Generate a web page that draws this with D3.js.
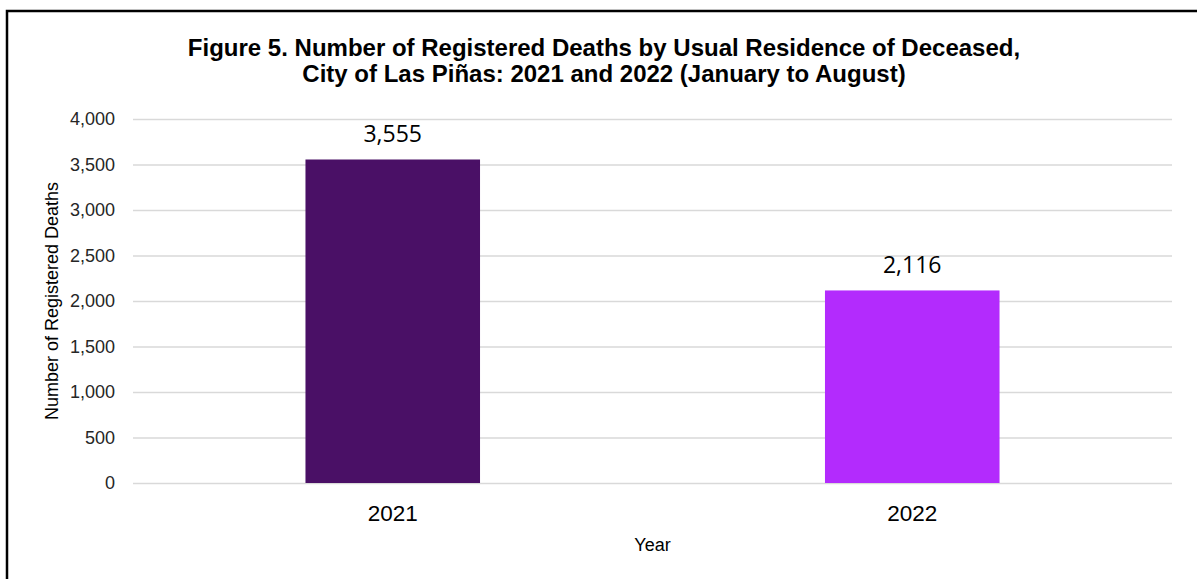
<!DOCTYPE html>
<html>
<head>
<meta charset="utf-8">
<script src="https://cdn.jsdelivr.net/npm/d3@7"></script>
<style>
  html, body { margin: 0; padding: 0; background: #fff; }
  svg { display: block; }
</style>
</head>
<body>
<div id="chart"></div>
<script>
  // values
  const years = ['2021', '2022']
  const deaths = [3555, 2116]
  const barColors = ['#4a1066', '#b32bfd']
  const yTicks = [0, 500, 1000, 1500, 2000, 2500, 3000, 3500, 4000]
  const titleLines = [
    'Figure 5. Number of Registered Deaths by Usual Residence of Deceased,',
    'City of Las Piñas: 2021 and 2022 (January to August)'
  ]

  const W = 1197, H = 579
  const margin = { left: 133, right: 25, top: 119, bottom: 96 }

  const svg = d3.select('#chart').append('svg')
    .attr('width', W)
    .attr('height', H)
    .attr('viewBox', [0, 0, W, H])

  // outer frame (runs off the right and bottom edge like the source)
  svg.append('rect')
    .attr('x', 7).attr('y', 11)
    .attr('width', W + 20).attr('height', H + 20)
    .attr('fill', 'none')
    .attr('stroke', '#000')
    .attr('stroke-width', 2.5)

  const x = d3.scaleBand()
    .domain(years)
    .range([margin.left, W - margin.right])
    .paddingInner(0.664)
    .paddingOuter(0.332)

  const y = d3.scaleLinear()
    .domain([0, 4000])
    .range([H - margin.bottom, margin.top])

  // gridlines + y tick labels
  const yAxis = d3.axisLeft(y)
    .tickValues(yTicks)
    .tickFormat(d3.format(','))
    .tickSize(-(W - margin.left - margin.right))
    .tickPadding(18)
  svg.append('g')
    .attr('transform', `translate(${margin.left},0)`)
    .call(yAxis)
    .call(g => g.select('.domain').remove())
    .call(g => g.selectAll('line').attr('stroke', '#d9d9d9').attr('stroke-width', 1.5))
    .call(g => g.selectAll('text')
      .attr('font-family', 'Liberation Sans, Arial, sans-serif')
      .attr('font-size', 18)
      .attr('fill', '#262626'))

  // bars
  svg.append('g').selectAll('rect')
    .data(years)
    .join('rect')
    .attr('x', d => x(d))
    .attr('width', x.bandwidth())
    .attr('y', (d, i) => y(deaths[i]))
    .attr('height', (d, i) => y(0) - y(deaths[i]))
    .attr('fill', (d, i) => barColors[i])

  // data labels
  svg.append('g').selectAll('text')
    .data(years)
    .join('text')
    .attr('x', d => x(d) + x.bandwidth() / 2)
    .attr('y', (d, i) => y(deaths[i]) - 17)
    .attr('text-anchor', 'middle')
    .attr('font-family', 'Open Sans, sans-serif')
    .attr('font-size', 23)
    .attr('fill', '#000')
    .text((d, i) => d3.format(',')(deaths[i]))

  // x axis labels
  const xAxis = d3.axisBottom(x).tickSize(0).tickPadding(22)
  svg.append('g')
    .attr('transform', `translate(0,${H - margin.bottom})`)
    .call(xAxis)
    .call(g => g.select('.domain').remove())
    .call(g => g.selectAll('text')
      .attr('font-family', 'Liberation Sans, Arial, sans-serif')
      .attr('font-size', 22.5)
      .attr('fill', '#000'))

  // axis titles
  svg.append('text')
    .attr('x', (margin.left + W - margin.right) / 2)
    .attr('y', 551)
    .attr('text-anchor', 'middle')
    .attr('font-family', 'Liberation Sans, Arial, sans-serif')
    .attr('font-size', 18)
    .attr('fill', '#000')
    .text('Year')

  svg.append('text')
    .attr('transform', `translate(58,${(y(0) + y(4000)) / 2}) rotate(-90)`)
    .attr('text-anchor', 'middle')
    .attr('font-family', 'Liberation Sans, Arial, sans-serif')
    .attr('font-size', 18)
    .attr('fill', '#000')
    .text('Number of Registered Deaths')

  // title
  svg.append('text')
    .attr('text-anchor', 'middle')
    .attr('font-family', 'Liberation Sans, Arial, sans-serif')
    .attr('font-weight', 'bold')
    .attr('font-size', 24)
    .attr('fill', '#000')
    .selectAll('tspan')
    .data(titleLines)
    .join('tspan')
    .attr('x', 604)
    .attr('y', (d, i) => 56 + i * 26)
    .text(d => d)
</script>
</body>
</html>
